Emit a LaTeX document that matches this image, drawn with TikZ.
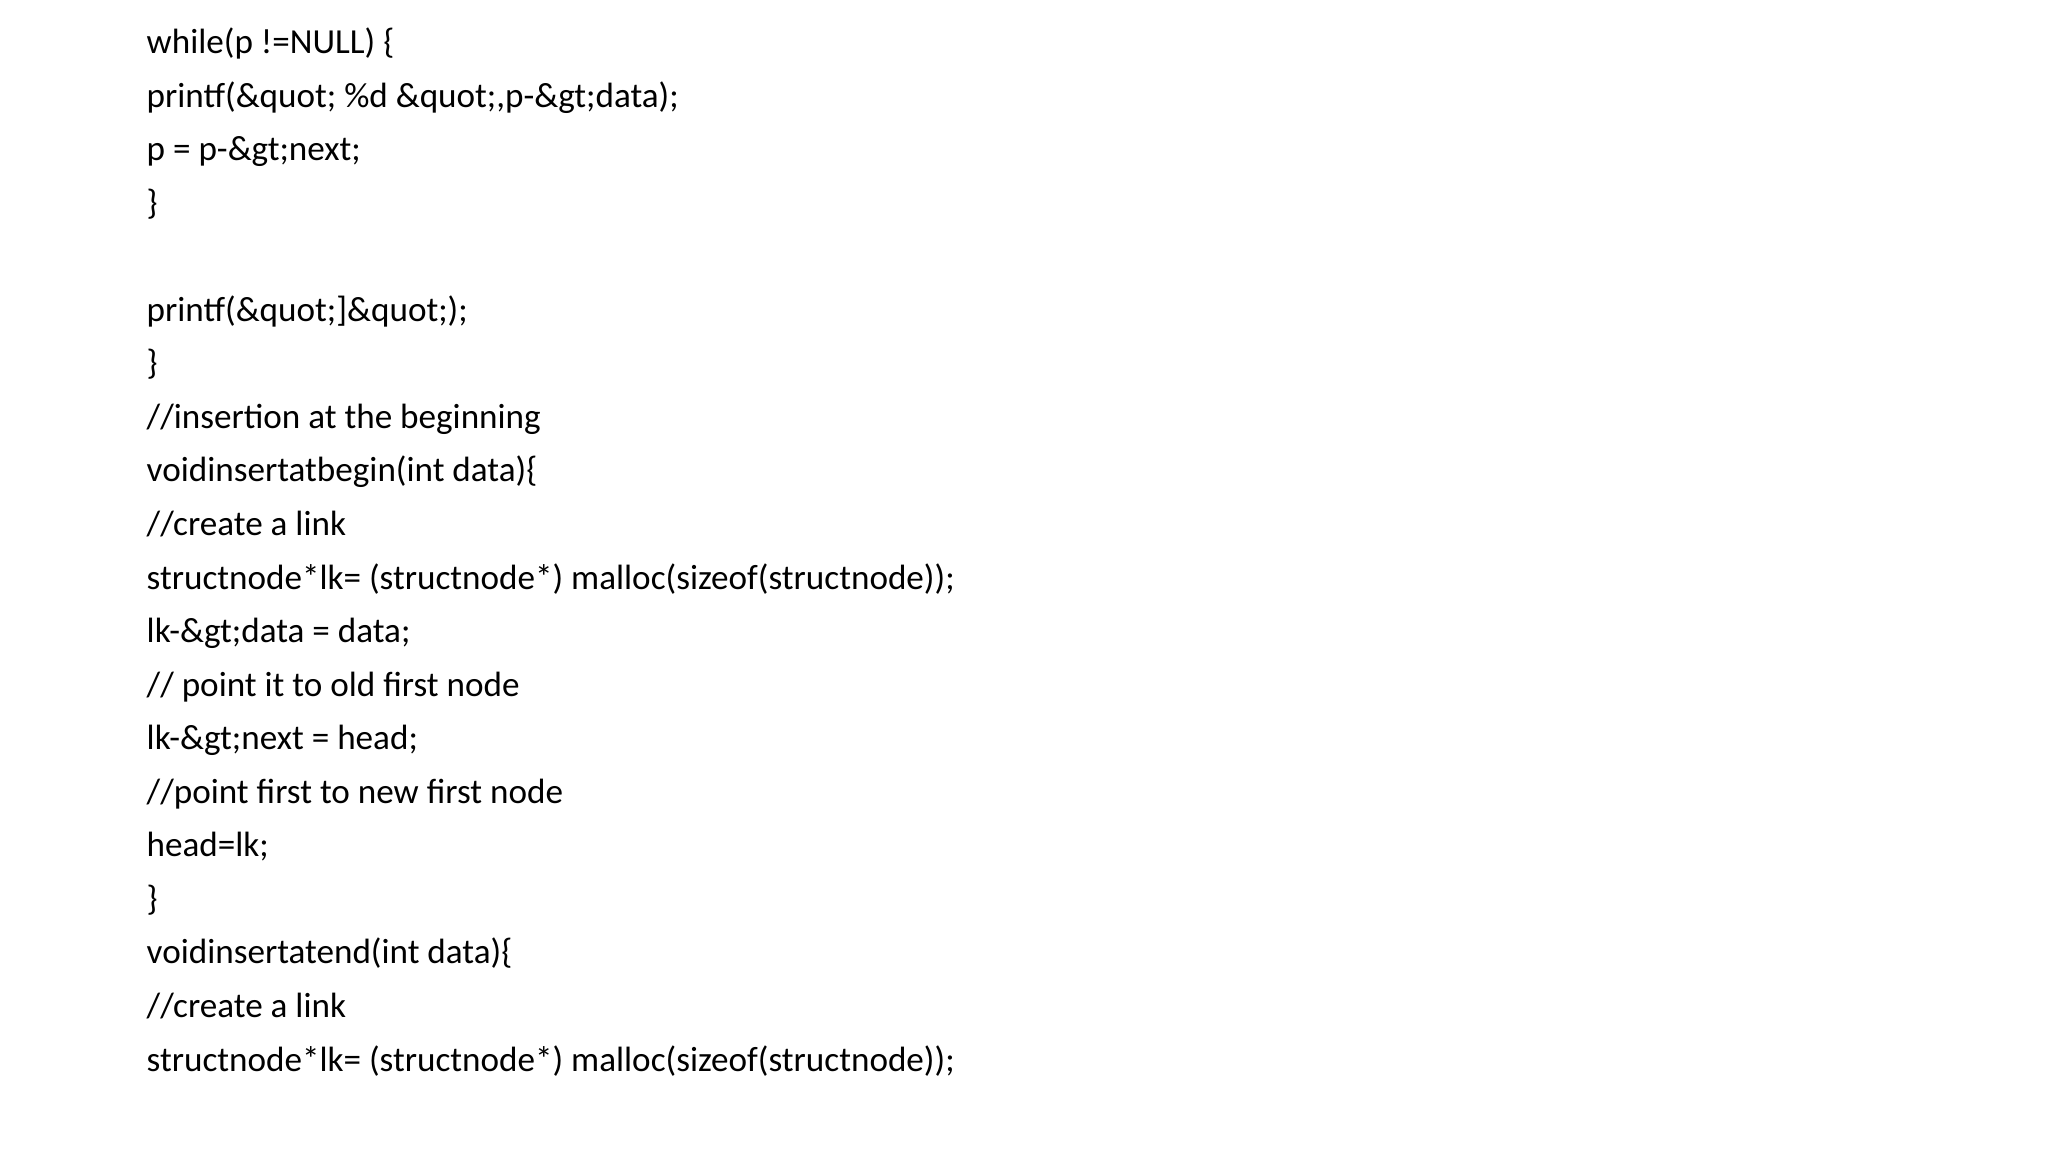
\documentclass[tikz,border=0pt]{standalone}
\usepackage{fontspec}
\setmainfont{Carlito}
\begin{document}
\begin{tikzpicture}[x=1cm,y=1cm,
  ln/.style={anchor=west,inner sep=0pt,text height=0.72em,text depth=0.2em,font=\fontsize{10pt}{12pt}\selectfont}]
\useasboundingbox (0,0) rectangle (20.48,-11.52);
\def\L#1#2#3{\node[ln] (#1) at (1.46,{-0.444-0.5355*#2}) {#3};}
\L{a}{0}{while(p !=NULL) \{}
\L{b}{1}{printf(\&quot; \%d \&quot;,p-\&gt;data);}
\L{c}{2}{p = p-\&gt;next;}
\L{d}{3}{\}}
\L{e}{5}{printf(\&quot;]\&quot;);}
\L{f}{6}{\}}
\L{g}{7}{//insertion at the beginning}
\L{h}{8}{voidinsertatbegin(int data)\{}
\L{i}{9}{//create a link}
\L{j}{10}{structnode*lk= (structnode*) malloc(sizeof(structnode));}
\L{k}{11}{lk-\&gt;data = data;}
\L{l}{12}{// point it to old first node}
\L{m}{13}{lk-\&gt;next = head;}
\L{n}{14}{//point first to new first node}
\L{o}{15}{head=lk;}
\L{p}{16}{\}}
\L{q}{17}{voidinsertatend(int data)\{}
\L{r}{18}{//create a link}
\L{s}{19}{structnode*lk= (structnode*) malloc(sizeof(structnode));}
\end{tikzpicture}
\end{document}
